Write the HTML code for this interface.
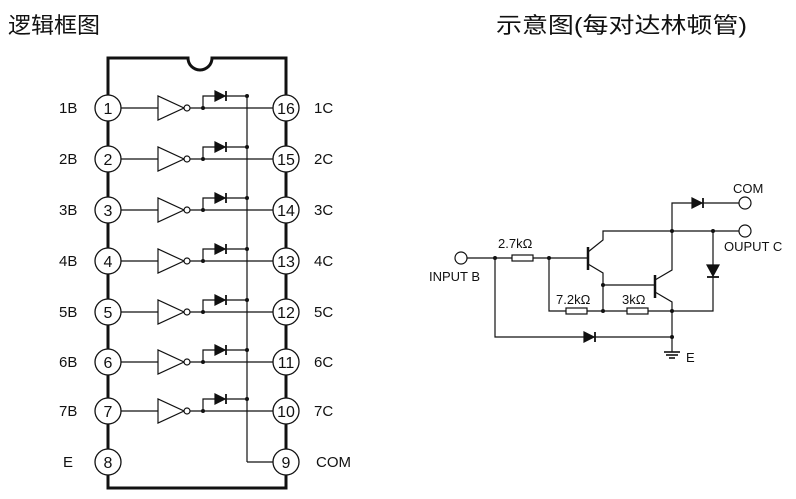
<!DOCTYPE html>
<html><head><meta charset="utf-8"><style>
body{margin:0;background:#fff;width:796px;height:499px;overflow:hidden}
svg{display:block}
text{font-family:"Liberation Sans",Arial,sans-serif;fill:#111}
.cj{font-family:"Liberation Sans","Noto Sans CJK SC",sans-serif;font-size:22px}
</style></head><body>
<svg width="796" height="499" viewBox="0 0 796 499" xmlns="http://www.w3.org/2000/svg">
<defs>
<g id="row" stroke="#111" fill="none" stroke-width="1.2">
  <line x1="121" y1="0" x2="158" y2="0"/>
  <path d="M158,-12 L158,12 L184,0 Z" fill="#fff"/>
  <circle cx="187" cy="0" r="3" fill="#fff"/>
  <line x1="190" y1="0" x2="273" y2="0"/>
  <polyline points="203,0 203,-12 247,-12"/>
  <path d="M215,-17 L215,-7 L225,-12 Z" fill="#111"/>
  <line x1="226" y1="-17" x2="226" y2="-7" stroke-width="1.8"/>
  <circle cx="203" cy="0" r="2" fill="#111" stroke="none"/>
  <circle cx="247" cy="-12" r="2" fill="#111" stroke="none"/>
</g>
<g id="pinL"><circle cx="108" cy="0" r="13" fill="#fff" stroke="#111" stroke-width="1.3"/></g>
<g id="pinR"><circle cx="286" cy="0" r="13" fill="#fff" stroke="#111" stroke-width="1.3"/></g>
</defs>
<text x="8" y="33" class="cj" textLength="92" lengthAdjust="spacingAndGlyphs">逻辑框图</text>
<text x="496" y="33" class="cj" textLength="251" lengthAdjust="spacingAndGlyphs">示意图(每对达林顿管)</text>

<path d="M108,58 L188,58 A12,12 0 0 0 212,58 L286,58 L286,488 L108,488 Z" fill="none" stroke="#111" stroke-width="3"/>
<line x1="247" y1="96" x2="247" y2="462" stroke="#111" stroke-width="1.2"/>
<line x1="247" y1="462" x2="273" y2="462" stroke="#111" stroke-width="1.2"/>

<use href="#row" y="108"/><use href="#row" y="159"/><use href="#row" y="210"/><use href="#row" y="261"/>
<use href="#row" y="312"/><use href="#row" y="362"/><use href="#row" y="411"/>

<use href="#pinL" y="108"/><use href="#pinL" y="159"/><use href="#pinL" y="210"/><use href="#pinL" y="261"/>
<use href="#pinL" y="312"/><use href="#pinL" y="362"/><use href="#pinL" y="411"/><use href="#pinL" y="462"/>
<use href="#pinR" y="108"/><use href="#pinR" y="159"/><use href="#pinR" y="210"/><use href="#pinR" y="261"/>
<use href="#pinR" y="312"/><use href="#pinR" y="362"/><use href="#pinR" y="411"/><use href="#pinR" y="462"/>

<g font-size="16" text-anchor="middle">
<text x="108" y="114">1</text><text x="108" y="165">2</text><text x="108" y="216">3</text><text x="108" y="267">4</text>
<text x="108" y="318">5</text><text x="108" y="368">6</text><text x="108" y="417">7</text><text x="108" y="468">8</text>
<text x="286" y="114">16</text><text x="286" y="165">15</text><text x="286" y="216">14</text><text x="286" y="267">13</text>
<text x="286" y="318">12</text><text x="286" y="368">11</text><text x="286" y="417">10</text><text x="286" y="468">9</text>
</g>
<g font-size="15">
<text x="59" y="113">1B</text><text x="59" y="164">2B</text><text x="59" y="215">3B</text><text x="59" y="266">4B</text>
<text x="59" y="317">5B</text><text x="59" y="367">6B</text><text x="59" y="416">7B</text><text x="63" y="467">E</text>
<text x="314" y="113">1C</text><text x="314" y="164">2C</text><text x="314" y="215">3C</text><text x="314" y="266">4C</text>
<text x="314" y="317">5C</text><text x="314" y="367">6C</text><text x="314" y="416">7C</text><text x="316" y="467">COM</text>
</g>

<g stroke="#111" stroke-width="1.2" fill="none">
<circle cx="461" cy="258" r="6" fill="#fff"/>
<line x1="467" y1="258" x2="512" y2="258"/>
<rect x="512" y="255" width="21" height="6" fill="#fff"/>
<line x1="533" y1="258" x2="588" y2="258"/>
<line x1="588" y1="247" x2="588" y2="270" stroke-width="2.5"/>
<polyline points="588,252 603,240 603,231 713,231"/>
<polyline points="588,264 603,273 603,311"/>
<line x1="603" y1="285" x2="655" y2="285"/>
<line x1="655" y1="275" x2="655" y2="298" stroke-width="2.5"/>
<polyline points="655,280 672,270 672,203 692,203"/>
<path d="M692,198 L692,208 L702,203 Z" fill="#111"/>
<line x1="703" y1="198" x2="703" y2="208" stroke-width="1.8"/>
<line x1="703" y1="203" x2="739" y2="203"/>
<circle cx="745" cy="203" r="6" fill="#fff"/>
<line x1="713" y1="231" x2="739" y2="231"/>
<circle cx="745" cy="231" r="6" fill="#fff"/>
<polyline points="655,292 672,302 672,352"/>
<polyline points="713,231 713,311 672,311"/>
<path d="M707,265 L719,265 L713,276 Z" fill="#111"/>
<line x1="707" y1="277" x2="719" y2="277" stroke-width="1.8"/>
<polyline points="549,258 549,311 566,311"/>
<rect x="566" y="308" width="21" height="6" fill="#fff"/>
<line x1="587" y1="311" x2="627" y2="311"/>
<rect x="627" y="308" width="21" height="6" fill="#fff"/>
<line x1="648" y1="311" x2="672" y2="311"/>
<polyline points="495,258 495,337 672,337"/>
<path d="M584,332 L584,342 L594,337 Z" fill="#111"/>
<line x1="595" y1="332" x2="595" y2="342" stroke-width="1.8"/>
<line x1="664" y1="352" x2="680" y2="352" stroke-width="1.6"/>
<line x1="666" y1="355" x2="678" y2="355" stroke-width="1.6"/>
<line x1="669" y1="358" x2="675" y2="358" stroke-width="1.6"/>
</g>
<g fill="#111">
<circle cx="495" cy="258" r="2"/><circle cx="549" cy="258" r="2"/><circle cx="603" cy="311" r="2"/>
<circle cx="603" cy="285" r="2"/><circle cx="672" cy="231" r="2"/><circle cx="713" cy="231" r="2"/>
<circle cx="672" cy="311" r="2"/><circle cx="672" cy="337" r="2"/>
</g>
<g font-size="13">
<text x="498" y="248">2.7kΩ</text>
<text x="556" y="304">7.2kΩ</text>
<text x="622" y="304">3kΩ</text>
<text x="429" y="281">INPUT B</text>
<text x="724" y="251">OUPUT C</text>
<text x="733" y="193">COM</text>
<text x="686" y="362">E</text>
</g>
</svg>
</body></html>
